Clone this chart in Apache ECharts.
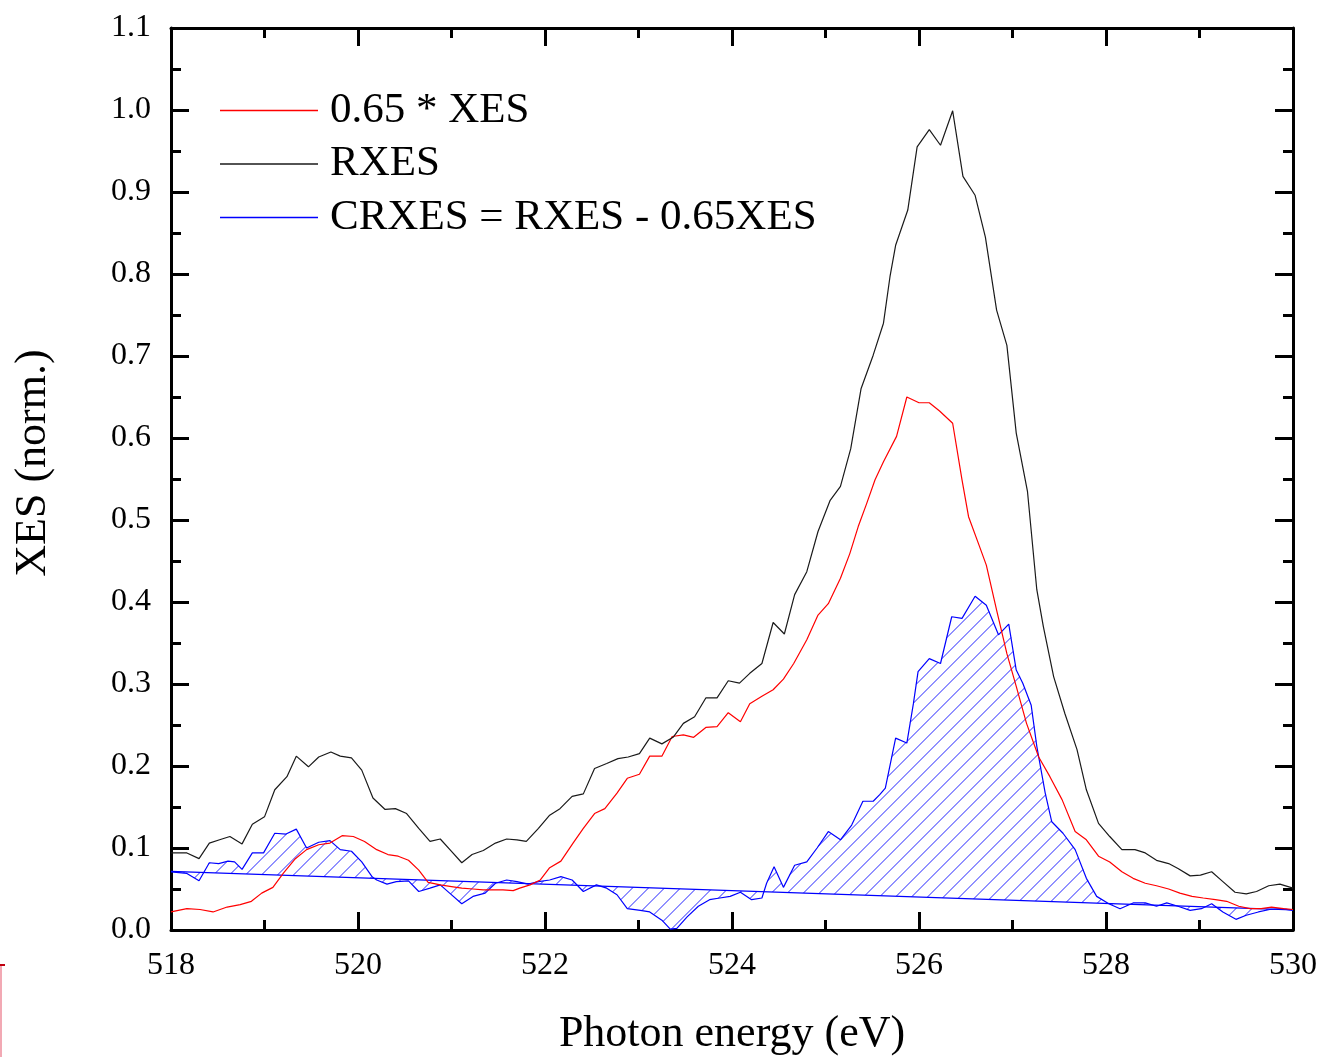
<!DOCTYPE html>
<html>
<head>
<meta charset="utf-8">
<title>XES / RXES</title>
<script src="https://cdn.jsdelivr.net/npm/echarts@6/dist/echarts.min.js"></script>
<style>
  html, body { margin: 0; padding: 0; background: #ffffff; }
  #chart { width: 1322px; height: 1057px; }
</style>
</head>
<body>
<div id="chart"></div>
<script>
// Photon energy (eV) / normalized intensity pairs
const rxes = [
  [518.00,0.094],[518.17,0.094],[518.30,0.087],[518.41,0.106],[518.52,0.110],[518.63,0.114],
  [518.76,0.105],[518.87,0.129],[519.00,0.138],[519.11,0.171],[519.24,0.187],[519.34,0.212],
  [519.47,0.199],[519.58,0.211],[519.71,0.217],[519.81,0.212],[519.93,0.210],[520.04,0.195],
  [520.16,0.161],[520.29,0.147],[520.40,0.148],[520.52,0.142],[520.65,0.124],[520.77,0.108],
  [520.88,0.111],[521.00,0.096],[521.11,0.082],[521.22,0.092],[521.34,0.097],[521.47,0.106],
  [521.59,0.111],[521.70,0.110],[521.80,0.108],[521.93,0.124],[522.05,0.140],[522.16,0.148],
  [522.29,0.163],[522.41,0.166],[522.53,0.197],[522.66,0.203],[522.78,0.209],[522.89,0.211],
  [523.01,0.215],[523.12,0.234],[523.25,0.227],[523.37,0.235],[523.48,0.252],[523.60,0.260],
  [523.72,0.283],[523.84,0.283],[523.96,0.304],[524.08,0.301],[524.19,0.313],[524.32,0.325],
  [524.44,0.375],[524.56,0.361],[524.67,0.409],[524.80,0.437],[524.92,0.486],[525.05,0.524],
  [525.16,0.541],[525.27,0.587],[525.38,0.660],[525.51,0.701],[525.62,0.740],[525.69,0.797],
  [525.75,0.835],[525.88,0.878],[525.98,0.955],[526.11,0.976],[526.23,0.957],[526.36,0.999],
  [526.47,0.919],[526.60,0.896],[526.71,0.845],[526.83,0.756],[526.94,0.713],[527.04,0.606],
  [527.16,0.535],[527.26,0.415],[527.33,0.370],[527.44,0.309],[527.56,0.264],[527.69,0.220],
  [527.79,0.171],[527.92,0.130],[528.04,0.114],[528.17,0.098],[528.31,0.098],[528.42,0.094],
  [528.54,0.085],[528.67,0.081],[528.77,0.075],[528.90,0.066],[529.01,0.067],[529.13,0.071],
  [529.25,0.059],[529.38,0.046],[529.50,0.044],[529.61,0.047],[529.74,0.054],[529.86,0.056],
  [530.00,0.051]
];

const xesScaled = [
  [518.00,0.022],[518.17,0.026],[518.31,0.025],[518.45,0.022],[518.60,0.028],[518.74,0.031],
  [518.86,0.035],[518.97,0.045],[519.09,0.052],[519.20,0.069],[519.33,0.087],[519.45,0.098],
  [519.58,0.104],[519.70,0.106],[519.83,0.115],[519.95,0.114],[520.07,0.108],[520.20,0.098],
  [520.32,0.092],[520.43,0.090],[520.54,0.085],[520.65,0.073],[520.75,0.058],[520.88,0.055],
  [521.00,0.053],[521.11,0.051],[521.23,0.050],[521.34,0.049],[521.45,0.049],[521.55,0.049],
  [521.66,0.048],[521.73,0.051],[521.84,0.055],[521.95,0.061],[522.05,0.076],[522.17,0.084],
  [522.30,0.106],[522.41,0.124],[522.53,0.142],[522.64,0.148],[522.77,0.167],[522.88,0.185],
  [523.01,0.190],[523.12,0.212],[523.25,0.212],[523.36,0.236],[523.48,0.238],[523.59,0.235],
  [523.72,0.247],[523.84,0.248],[523.96,0.265],[524.09,0.254],[524.19,0.276],[524.32,0.285],
  [524.44,0.293],[524.55,0.306],[524.66,0.325],[524.80,0.354],[524.92,0.384],[525.03,0.398],
  [525.16,0.429],[525.26,0.459],[525.35,0.492],[525.44,0.520],[525.53,0.549],[525.62,0.571],
  [525.76,0.602],[525.87,0.650],[526.00,0.643],[526.11,0.643],[526.22,0.633],[526.36,0.618],
  [526.46,0.549],[526.53,0.504],[526.64,0.470],[526.72,0.445],[526.83,0.390],[526.94,0.337],
  [527.04,0.297],[527.15,0.252],[527.28,0.211],[527.40,0.187],[527.53,0.159],[527.67,0.120],
  [527.79,0.110],[527.92,0.090],[528.04,0.083],[528.17,0.071],[528.29,0.063],[528.42,0.057],
  [528.54,0.054],[528.67,0.050],[528.79,0.045],[528.92,0.041],[529.04,0.039],[529.17,0.037],
  [529.29,0.035],[529.42,0.029],[529.54,0.026],[529.66,0.026],[529.77,0.028],[529.90,0.026],
  [530.00,0.025]
];

const crxes = [
  [518.00,0.071],[518.17,0.069],[518.30,0.060],[518.41,0.082],[518.51,0.081],[518.61,0.084],
  [518.68,0.083],[518.76,0.074],[518.87,0.094],[518.99,0.094],[519.11,0.118],[519.23,0.117],
  [519.34,0.123],[519.45,0.100],[519.58,0.107],[519.70,0.109],[519.81,0.098],[519.93,0.096],
  [520.04,0.083],[520.15,0.065],[520.20,0.061],[520.31,0.056],[520.41,0.059],[520.54,0.060],
  [520.65,0.047],[520.77,0.051],[520.88,0.055],[520.98,0.045],[521.11,0.032],[521.23,0.041],
  [521.36,0.045],[521.47,0.057],[521.59,0.061],[521.70,0.059],[521.82,0.056],[521.93,0.059],
  [522.05,0.061],[522.17,0.065],[522.29,0.061],[522.41,0.047],[522.55,0.055],[522.66,0.051],
  [522.77,0.043],[522.88,0.026],[523.02,0.024],[523.12,0.022],[523.25,0.012],[523.34,0.001],
  [523.41,0.002],[523.52,0.016],[523.64,0.029],[523.76,0.037],[523.87,0.039],[523.98,0.041],
  [524.09,0.046],[524.21,0.037],[524.32,0.039],[524.37,0.057],[524.45,0.077],[524.55,0.052],
  [524.67,0.079],[524.80,0.083],[524.91,0.100],[525.03,0.120],[525.16,0.110],[525.28,0.128],
  [525.40,0.157],[525.51,0.157],[525.58,0.165],[525.64,0.173],[525.75,0.234],[525.87,0.228],
  [525.94,0.276],[525.99,0.315],[526.11,0.331],[526.23,0.325],[526.35,0.382],[526.46,0.380],
  [526.60,0.407],[526.72,0.396],[526.85,0.360],[526.96,0.373],[527.04,0.317],[527.11,0.301],
  [527.20,0.274],[527.26,0.224],[527.35,0.167],[527.42,0.132],[527.54,0.118],[527.67,0.098],
  [527.79,0.063],[527.90,0.041],[528.03,0.032],[528.15,0.026],[528.29,0.033],[528.42,0.033],
  [528.54,0.029],[528.65,0.033],[528.77,0.029],[528.90,0.024],[529.02,0.026],[529.13,0.032],
  [529.25,0.022],[529.39,0.013],[529.50,0.018],[529.63,0.022],[529.75,0.025],[529.87,0.026],
  [530.00,0.024]
];

// straight baseline under the CRXES difference spectrum
const crxesBaseline = [[518.00,0.0715],[530.00,0.0245]];

const seriesNames = ['0.65 * XES', 'RXES', 'CRXES = RXES - 0.65XES'];
const seriesColors = ['#ff0000', '#1a1a1a', '#0000ff'];

const serif = '"Liberation Serif", "Times New Roman", serif';
const HATCH_STEP = 16;     // horizontal spacing of the "/" hatch lines, px
const HATCH_COLOR = '#2424ff';

// Clip the family of lines x + y = c against a pixel polygon (even-odd rule)
// and return the inside segments.
function hatchSegments(poly, step) {
  let lo = Infinity, hi = -Infinity;
  poly.forEach(p => { const s = p[0] + p[1]; lo = Math.min(lo, s); hi = Math.max(hi, s); });
  const segs = [];
  for (let c = Math.ceil(lo / step) * step + 0.5; c <= hi; c += step) {
    const xs = [];
    for (let i = 0; i < poly.length; i++) {
      const a = poly[i], b = poly[(i + 1) % poly.length];
      const sa = a[0] + a[1] - c, sb = b[0] + b[1] - c;
      if ((sa < 0 && sb >= 0) || (sa >= 0 && sb < 0)) {
        const t = sa / (sa - sb);
        xs.push(a[0] + t * (b[0] - a[0]));
      }
    }
    xs.sort((m, n) => m - n);
    for (let k = 0; k + 1 < xs.length; k += 2) {
      segs.push([xs[k], c - xs[k], xs[k + 1], c - xs[k + 1]]);
    }
  }
  return segs;
}

const chart = echarts.init(document.getElementById('chart'), null, { renderer: 'canvas' });

const tickStyle = { show: true, inside: true, length: 18, lineStyle: { color: '#000', width: 3 } };
const minorStyle = { show: true, splitNumber: 2, length: 10, lineStyle: { color: '#000', width: 3 } };
const lineStyle = { show: true, onZero: false, lineStyle: { color: '#000', width: 3 } };

function xAxisCfg(pos, withLabels) {
  return {
    type: 'value', position: pos, min: 518, max: 530, interval: 2,
    axisLine: lineStyle, axisTick: tickStyle, minorTick: minorStyle,
    splitLine: { show: false },
    axisLabel: { show: withLabels, margin: 20, color: '#000', fontFamily: serif, fontSize: 32 },
    name: withLabels ? 'Photon energy (eV)' : '',
    nameLocation: 'middle', nameGap: 82,
    nameTextStyle: { color: '#000', fontFamily: serif, fontSize: 44 }
  };
}
function yAxisCfg(pos, withLabels) {
  return {
    type: 'value', position: pos, min: 0, max: 1.1, interval: 0.1,
    axisLine: lineStyle, axisTick: tickStyle, minorTick: minorStyle,
    splitLine: { show: false },
    axisLabel: {
      show: withLabels, margin: 20, color: '#000', fontFamily: serif, fontSize: 32,
      formatter: v => v.toFixed(1)
    },
    name: withLabels ? 'XES (norm.)' : '',
    nameLocation: 'middle', nameGap: 116, nameRotate: 90,
    nameTextStyle: { color: '#000', fontFamily: serif, fontSize: 44, padding: [0, 0, 0, 32] }
  };
}

chart.setOption({
  animation: false,
  backgroundColor: '#ffffff',
  grid: { left: 171, right: 29, top: 28, bottom: 127, containLabel: false, outerBoundsMode: 'none' },
  xAxis: [xAxisCfg('bottom', true), xAxisCfg('top', false)],
  yAxis: [yAxisCfg('left', true), yAxisCfg('right', false)],
  legend: {
    data: seriesNames.map(n => ({ name: n, icon: 'rect' })),
    orient: 'vertical',
    left: 220, top: 89, padding: 0,
    itemWidth: 98, itemHeight: 1.5, itemGap: 10.5,
    selectedMode: false,
    textStyle: { color: '#000', fontFamily: serif, fontSize: 43, lineHeight: 43, padding: [0, 0, 0, 7] }
  },
  graphic: [
    { type: 'line', shape: { x1: 0, y1: 965, x2: 5, y2: 965 }, style: { stroke: '#c0000f', lineWidth: 2 } },
    { type: 'line', shape: { x1: 1, y1: 966, x2: 1, y2: 1057 }, style: { stroke: '#f2a9b4', lineWidth: 2 } }
  ],
  series: [
    {
      type: 'custom', name: 'CRXES fill', silent: true,
      coordinateSystem: 'cartesian2d', xAxisIndex: 0, yAxisIndex: 0,
      data: [[524, 0.05]], z: 1,
      renderItem: function (params, api) {
        const poly = crxes.map(p => api.coord(p));
        poly.push(api.coord(crxesBaseline[1]));
        poly.push(api.coord(crxesBaseline[0]));
        const children = hatchSegments(poly, HATCH_STEP).map(s => ({
          type: 'line',
          shape: { x1: s[0], y1: s[1], x2: s[2], y2: s[3] },
          style: { stroke: HATCH_COLOR, lineWidth: 1 }
        }));
        return { type: 'group', children: children };
      }
    },
    {
      type: 'line', name: 'CRXES baseline', data: crxesBaseline, symbol: 'none', silent: true,
      lineStyle: { color: '#0000ff', width: 1.2 }, z: 2
    },
    {
      type: 'line', name: seriesNames[2], data: crxes, symbol: 'none',
      lineStyle: { color: seriesColors[2], width: 1.2 }, itemStyle: { color: seriesColors[2] }, z: 3
    },
    {
      type: 'line', name: seriesNames[0], data: xesScaled, symbol: 'none',
      lineStyle: { color: seriesColors[0], width: 1.2 }, itemStyle: { color: seriesColors[0] }, z: 4
    },
    {
      type: 'line', name: seriesNames[1], data: rxes, symbol: 'none',
      lineStyle: { color: seriesColors[1], width: 1.2 }, itemStyle: { color: seriesColors[1] }, z: 5
    }
  ]
});
</script>
</body>
</html>
